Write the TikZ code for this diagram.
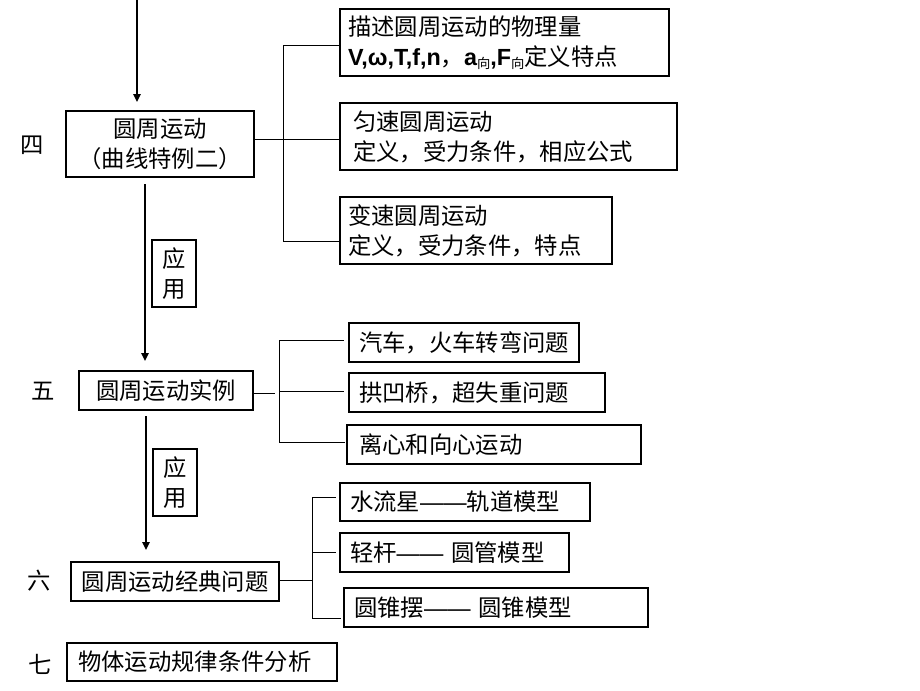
\documentclass[tikz,border=0pt]{standalone}
\usepackage{fontspec}
\setmainfont{Noto Sans CJK SC}
\newfontfamily\arial{Liberation Sans}
\usetikzlibrary{arrows.meta}
\newcommand\dirsub{\raisebox{-2.5pt}{\fontsize{10}{10}\selectfont 向}}
\newcommand\dd{{\arial ——}}
\begin{document}
\begin{tikzpicture}[x=0.75pt,y=-0.75pt,
  box/.style={draw, line width=1.5pt, inner sep=0pt, font=\fontsize{17.5}{22.5}\selectfont},
  lbox/.style={box, align=left},
  cbox/.style={box, align=center},
  lab/.style={font=\fontsize{17.5}{22}\selectfont, inner sep=0pt},
  conn/.style={line width=0.75pt},
  arr/.style={line width=1.3pt, -{Triangle[length=6pt,width=5.5pt]}}]
\fill[white] (0,0) rectangle (920,690);
\useasboundingbox (0,0) rectangle (920,690);

% main boxes
\node[cbox, minimum width=141pt, minimum height=49.5pt] (S4) at (160,144) {圆周运动\\（曲线特例二）};
\node[cbox, minimum width=130.5pt, minimum height=29.25pt] (S5) at (166,390.5) {圆周运动实例};
\node[cbox, minimum width=156pt, minimum height=29.25pt] (S6) at (175,581.5) {圆周运动经典问题};
\node[lbox, text width=186pt, minimum width=202.5pt, minimum height=28.5pt] (S7) at (202,662) {物体运动规律条件分析};

% labels
\node[lab] (L4) at (32,145) {四};
\node[lab] (L5) at (43,391) {五};
\node[lab] (L6) at (39,581) {六};
\node[lab] (L7) at (40,664) {七};

% apply boxes
\node[cbox, minimum width=33pt, minimum height=50.25pt] (Y1) at (174,273.5) {应\\用};
\node[cbox, minimum width=33pt, minimum height=50.25pt] (Y2) at (175,482.5) {应\\用};

% right boxes, group 4
\node[lbox, text width=234.75pt, minimum width=246.75pt, minimum height=50.25pt] (A) at (504.5,42.5)
  {描述圆周运动的物理量\\{\arial\bfseries V,ω,T,f,n}，{\arial\bfseries a}\dirsub{\arial\bfseries ,F}\dirsub 定义特点};
\node[lbox, text width=233.25pt, minimum width=252.75pt, minimum height=50.25pt] (B) at (508.5,136.5)
  {匀速圆周运动\\定义，受力条件，相应公式};
\node[lbox, text width=192pt, minimum width=204pt, minimum height=50.25pt] (C) at (476,230.5)
  {变速圆周运动\\定义，受力条件，特点};

% group 5
\node[cbox, minimum width=172.5pt, minimum height=29.25pt] (D1) at (464,342.5) {汽车，火车转弯问题};
\node[lbox, text width=177pt, minimum width=192pt, minimum height=29.25pt] (D2) at (477,392.5) {拱凹桥，超失重问题};
\node[lbox, text width=202.5pt, minimum width=220.5pt, minimum height=29.25pt] (D3) at (494,444.5) {离心和向心运动};

% group 6
\node[lbox, text width=172.5pt, minimum width=187.5pt, minimum height=28.5pt] (E1) at (465,502) {水流星\dd 轨道模型};
\node[lbox, text width=156.75pt, minimum width=171.75pt, minimum height=29.25pt] (E2) at (454.5,552.5) {轻杆\dd{} 圆管模型};
\node[lbox, text width=213pt, minimum width=228pt, minimum height=29.25pt] (E3) at (496,607.5) {圆锥摆\dd{} 圆锥模型};

% arrows
\coordinate (top) at (137,0);
\coordinate (x1) at (145,0);
\coordinate (x2) at (146,0);
\draw[arr, shorten >=6pt] (top) -- (top |- S4.north);
\draw[arr, shorten <=4.5pt, shorten >=6.75pt] (S4.south -| x1) -- (S5.north -| x1);
\draw[arr, shorten <=3.75pt, shorten >=8.25pt] (S5.south -| x2) -- (S6.north -| x2);

% bracket 4
\coordinate (t1) at (283,45);
\coordinate (j1) at (283,139);
\coordinate (t3) at (283,241);
\draw[conn] (A.west |- t1) -- (t1) -- (t3) -- (C.west |- t3);
\draw[conn] (S4.east |- j1) -- (B.west |- j1);

% bracket 5
\coordinate (m0) at (275,393);
\coordinate (m1) at (279,340);
\coordinate (m2) at (279,391);
\coordinate (m3) at (279,442);
\draw[conn] (S5.east |- m0) -- (m0);
\draw[conn] (m1) -- (m3);
\draw[conn] (m1) -- ([xshift=-3pt]D1.west |- m1);
\draw[conn] (m2) -- ([xshift=-3pt]D2.west |- m2);
\draw[conn] (m3) -- ([xshift=-0.75pt]D3.west |- m3);

% bracket 6
\coordinate (n0) at (312,580);
\coordinate (n1) at (312,497);
\coordinate (n2) at (312,552);
\coordinate (n3) at (312,618);
\draw[conn] (S6.east |- n0) -- (n0);
\draw[conn] (n1) -- (n3);
\draw[conn] (n1) -- ([xshift=-2.25pt]E1.west |- n1);
\draw[conn] (n2) -- ([xshift=-2.25pt]E2.west |- n2);
\draw[conn] (n3) -- ([xshift=-1.5pt]E3.west |- n3);
\end{tikzpicture}
\end{document}
